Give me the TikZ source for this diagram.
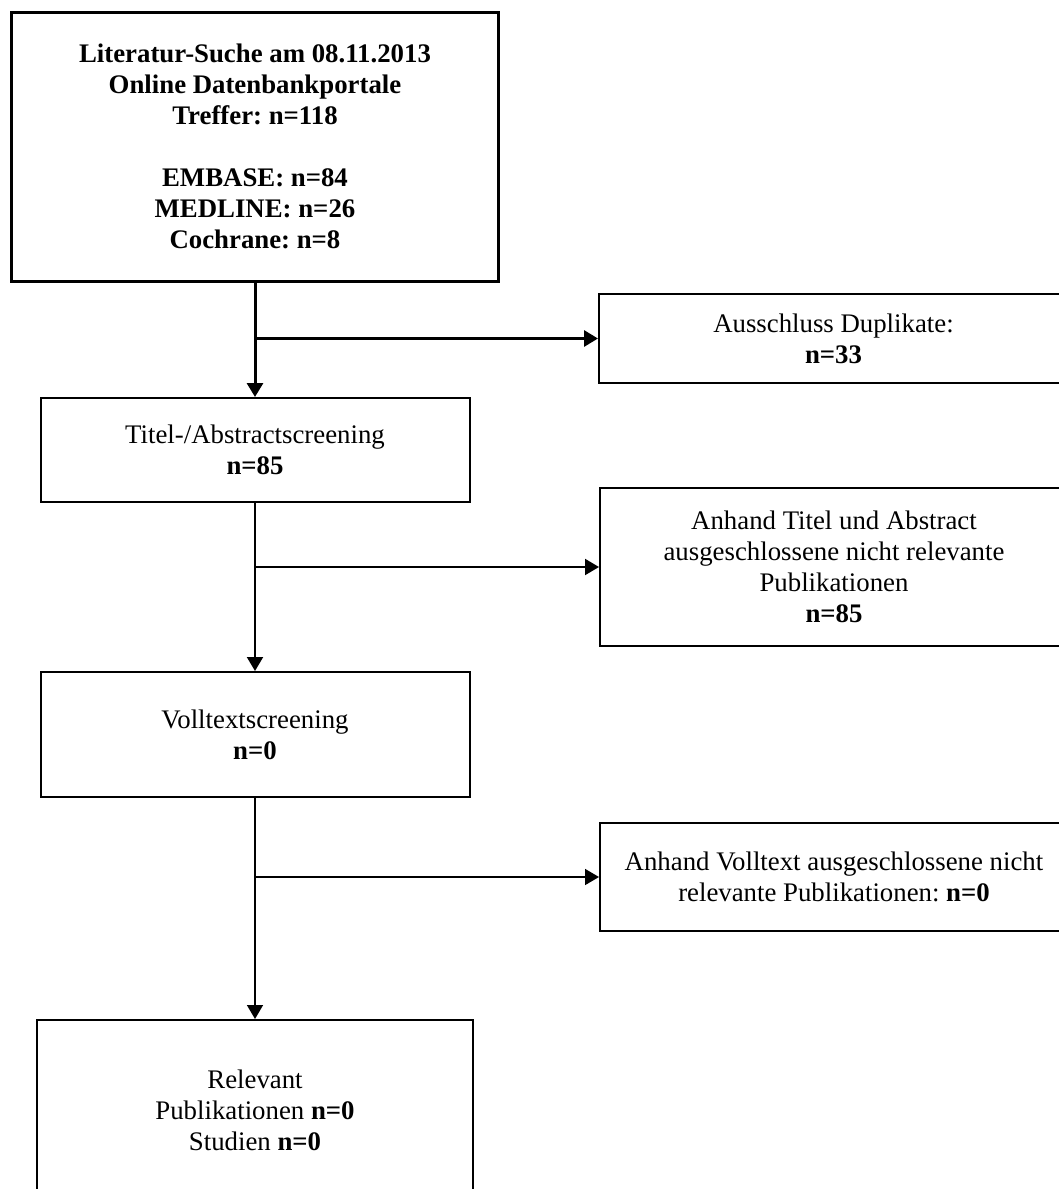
\documentclass[tikz,border=0pt]{standalone}
\usepackage{fontspec}
\setmainfont{Liberation Serif}
\frenchspacing
\usetikzlibrary{arrows.meta, backgrounds}

\begin{document}
\begin{tikzpicture}[x=0.5pt, y=-0.5pt, background rectangle/.style={fill=white}, show background rectangle]
            \useasboundingbox (0,0) rectangle (1059,1189);
            \begin{scope}[every node/.style={rectangle, draw=black, line width=1pt, inner sep=0pt, align=center,
                                             font={\fontsize{13.4}{15.5}\selectfont}}]
                \node[line width=1.5pt, minimum width=243.5pt, minimum height=134.5pt,
                      font={\fontsize{13.4}{15.5}\selectfont\bfseries}] (suche) at (255,146.5)
                      {Literatur-Suche am 08.11.2013\\ Online Datenbankportale\\ Treffer: n=118\\[15.5pt]
                       EMBASE: n=84\\ MEDLINE: n=26\\ Cochrane: n=8};
                \node[minimum width=234.5pt, minimum height=44.5pt] (dupl) at (833.5,338.5)
                      {Ausschluss Duplikate:\\ \textbf{n=33}};
                \node[minimum width=214.5pt, minimum height=52pt] (titel) at (255,450)
                      {Titel-/Abstractscreening\\ \textbf{n=85}};
                \node[minimum width=234pt, minimum height=79pt] (ausTitel) at (834,567)
                      {Anhand Titel und Abstract\\ ausgeschlossene nicht relevante\\ Publikationen\\ \textbf{n=85}};
                \node[minimum width=214.5pt, minimum height=62.5pt] (voll) at (255,734.5)
                      {Volltextscreening\\ \textbf{n=0}};
                \node[minimum width=234pt, minimum height=54pt] (ausVoll) at (834,877)
                      {Anhand Volltext ausgeschlossene nicht\\ relevante Publikationen: \textbf{n=0}};
                \node[minimum width=218pt, minimum height=90pt] (relevant) at (255,1110)
                      {Relevant\\ Publikationen \textbf{n=0}\\ Studien \textbf{n=0}};
            \end{scope}

            \coordinate (b1) at (suche.south |- dupl.west);
            \coordinate (b2) at (titel.south |- ausTitel.west);
            \coordinate (b3) at (voll.south |- ausVoll.west);

            \begin{scope}[>={Triangle[length=7pt, width=8pt]},
                          every edge/.style={draw=black}]
                \path[->, line width=1.5pt] (suche) edge (titel);
                \path[->, line width=1.5pt] (b1) edge (dupl.west);
                \path[->, line width=1pt] (titel) edge (voll);
                \path[->, line width=1pt] (b2) edge (ausTitel.west);
                \path[->, line width=0.8pt] (voll) edge (relevant);
                \path[->, line width=0.8pt] (b3) edge (ausVoll.west);
            \end{scope}
\end{tikzpicture}
\end{document}
